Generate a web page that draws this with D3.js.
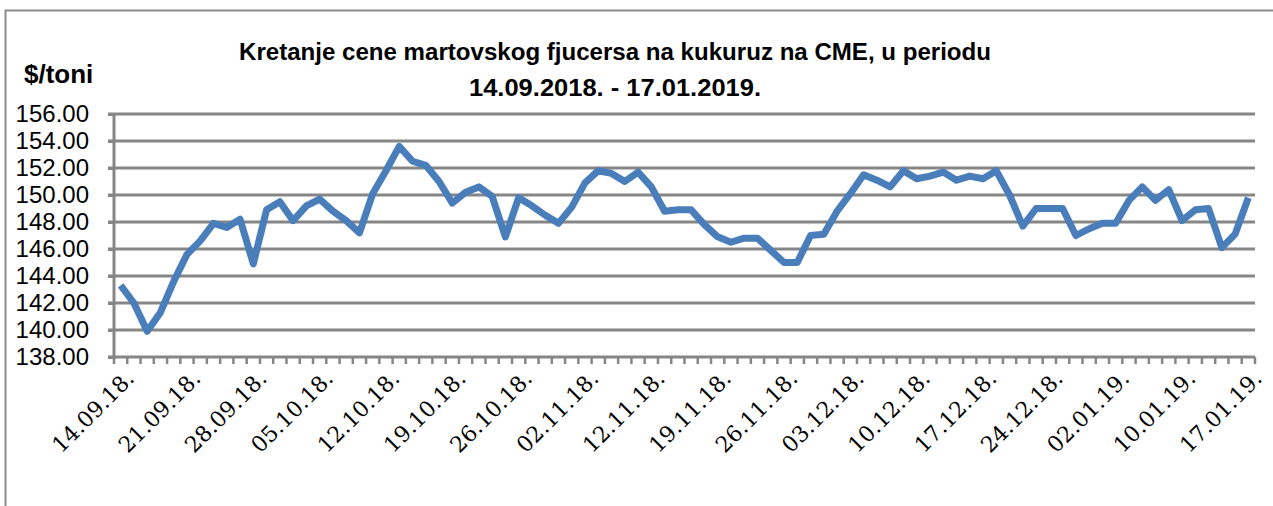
<!DOCTYPE html>
<html>
<head>
<meta charset="utf-8">
<script src="https://cdn.jsdelivr.net/npm/d3@7"></script>
<style>
  body { margin: 0; background: #fff; }
  svg { display: block; }
</style>
</head>
<body>
<svg id="chart"></svg>
<script>
// trading days, labels shown every 5th
let dates = [
  '14.09.18.', '17.09.18.', '18.09.18.', '19.09.18.', '20.09.18.', '21.09.18.',
  '24.09.18.', '25.09.18.', '26.09.18.', '27.09.18.', '28.09.18.',
  '01.10.18.', '02.10.18.', '03.10.18.', '04.10.18.', '05.10.18.',
  '08.10.18.', '09.10.18.', '10.10.18.', '11.10.18.', '12.10.18.',
  '15.10.18.', '16.10.18.', '17.10.18.', '18.10.18.', '19.10.18.',
  '22.10.18.', '23.10.18.', '24.10.18.', '25.10.18.', '26.10.18.',
  '29.10.18.', '30.10.18.', '31.10.18.', '01.11.18.', '02.11.18.',
  '05.11.18.', '06.11.18.', '07.11.18.', '09.11.18.', '12.11.18.',
  '13.11.18.', '14.11.18.', '15.11.18.', '16.11.18.', '19.11.18.',
  '20.11.18.', '21.11.18.', '22.11.18.', '23.11.18.', '26.11.18.',
  '27.11.18.', '28.11.18.', '29.11.18.', '30.11.18.', '03.12.18.',
  '04.12.18.', '05.12.18.', '06.12.18.', '07.12.18.', '10.12.18.',
  '11.12.18.', '12.12.18.', '13.12.18.', '14.12.18.', '17.12.18.',
  '18.12.18.', '19.12.18.', '20.12.18.', '21.12.18.', '24.12.18.',
  '26.12.18.', '27.12.18.', '28.12.18.', '31.12.18.', '02.01.19.',
  '03.01.19.', '04.01.19.', '07.01.19.', '08.01.19.', '10.01.19.',
  '11.01.19.', '14.01.19.', '15.01.19.', '16.01.19.', '17.01.19.'
];

let prices = [
  143.3, 142.0, 139.9, 141.3, 143.6, 145.6, 146.6, 147.9, 147.6, 148.2,
  144.9, 148.9, 149.5, 148.1, 149.2, 149.7, 148.8, 148.1, 147.2, 150.1,
  151.8, 153.6, 152.5, 152.2, 151.0, 149.4, 150.2, 150.6, 149.9, 146.9,
  149.8, 149.2, 148.5, 147.9, 149.1, 150.9, 151.8, 151.6, 151.0, 151.7,
  150.6, 148.8, 148.9, 148.9, 147.8, 146.9, 146.5, 146.8, 146.8, 145.9,
  145.0, 145.0, 147.0, 147.1, 148.8, 150.1, 151.5, 151.1, 150.6, 151.8,
  151.2, 151.4, 151.7, 151.1, 151.4, 151.2, 151.8, 150.0, 147.7, 149.0,
  149.0, 149.0, 147.0, 147.5, 147.9, 147.9, 149.6, 150.6, 149.6, 150.4,
  148.1, 148.9, 149.0, 146.1, 147.1, 149.8
];

let yTicks = [138, 140, 142, 144, 146, 148, 150, 152, 154, 156];
let titleLines = ['Kretanje cene martovskog  fjucersa na  kukuruz na CME, u periodu', '14.09.2018. - 17.01.2019.'];
let unitLabel = '$/toni';

const W = 1273, H = 506;
const plot = { left: 114, right: 1255, top: 114, bottom: 357 };
const gridColor = '#868686';
const lineColor = '#4a7ebb';

const svg = d3.select('#chart').attr('width', W).attr('height', H);

// outer frame (top and left edges visible)
svg.append('path')
  .attr('d', 'M5.5,506 L5.5,10.5 L1273,10.5')
  .attr('fill', 'none').attr('stroke', '#8c8c8c').attr('stroke-width', 2);

const x = d3.scaleBand().domain(d3.range(dates.length)).range([plot.left, plot.right]);
const y = d3.scaleLinear().domain([138, 156]).range([plot.bottom, plot.top]);

// horizontal gridlines
svg.append('g').selectAll('line')
  .data(yTicks.filter(d => d !== 138))
  .enter().append('line')
  .attr('x1', plot.left - 6).attr('x2', plot.right)
  .attr('y1', d => y(d)).attr('y2', d => y(d))
  .attr('stroke', gridColor).attr('stroke-width', 3);

// y axis
const yAxis = svg.append('g')
  .attr('transform', 'translate(' + plot.left + ',0)')
  .call(d3.axisLeft(y).tickValues(yTicks).tickFormat(d3.format('.2f')).tickSize(6).tickPadding(8));
yAxis.select('.domain').attr('stroke', gridColor).attr('stroke-width', 3).attr('d', 'M0,' + plot.top + 'V' + (plot.bottom + 2));
yAxis.selectAll('.tick line').attr('stroke', gridColor).attr('stroke-width', 3);
yAxis.selectAll('.tick text')
  .attr('font-family', 'Liberation Sans, Arial, sans-serif')
  .attr('font-size', '24px').attr('fill', '#000')
  .attr('x', -25);

// x axis, ticks between categories
const xTickPos = d3.range(dates.length + 1).map(i => plot.left + i * x.step());
const xg = svg.append('g');
xg.append('line')
  .attr('x1', plot.left - 6).attr('x2', plot.right)
  .attr('y1', plot.bottom).attr('y2', plot.bottom)
  .attr('stroke', gridColor).attr('stroke-width', 3);
xg.selectAll('.xt').data(xTickPos).enter().append('line')
  .attr('class', 'xt')
  .attr('x1', d => d).attr('x2', d => d)
  .attr('y1', plot.bottom).attr('y2', plot.bottom + 7)
  .attr('stroke', gridColor).attr('stroke-width', 2.5);

// rotated date labels
xg.selectAll('.xl')
  .data(dates.map((d, i) => [d, i]).filter(d => d[1] % 5 === 0))
  .enter().append('text')
  .attr('class', 'xl')
  .attr('transform', d => 'translate(' + (x(d[1]) + x.bandwidth() / 2 + 4) + ',' + (plot.bottom + 12) + ') rotate(-45)')
  .attr('text-anchor', 'end')
  .attr('dy', '0.7em')
  .attr('font-family', 'DejaVu Serif, serif')
  .attr('font-size', '22px')
  .attr('fill', '#000')
  .text(d => d[0]);

// price line
const line = d3.line()
  .x((d, i) => x(i) + x.bandwidth() / 2)
  .y(d => y(d));
svg.append('path')
  .datum(prices)
  .attr('d', line)
  .attr('fill', 'none')
  .attr('stroke', lineColor)
  .attr('stroke-width', 7)
  .attr('stroke-linejoin', 'round');

// title
let titleWidths = [752, 292];
svg.selectAll('.title').data(titleLines).enter().append('text')
  .attr('class', 'title')
  .attr('x', 615).attr('y', (d, i) => 60 + i * 36)
  .attr('text-anchor', 'middle')
  .attr('font-family', 'Liberation Sans, Arial, sans-serif')
  .attr('font-weight', 'bold')
  .attr('font-size', '23px')
  .attr('textLength', (d, i) => titleWidths[i])
  .attr('lengthAdjust', 'spacingAndGlyphs')
  .attr('fill', '#000')
  .text(d => d);

svg.append('text')
  .attr('x', 24).attr('y', 83)
  .attr('font-family', 'Liberation Sans, Arial, sans-serif')
  .attr('font-weight', 'bold')
  .attr('font-size', '26px')
  .attr('fill', '#000')
  .text(unitLabel);
</script>
</body>
</html>
